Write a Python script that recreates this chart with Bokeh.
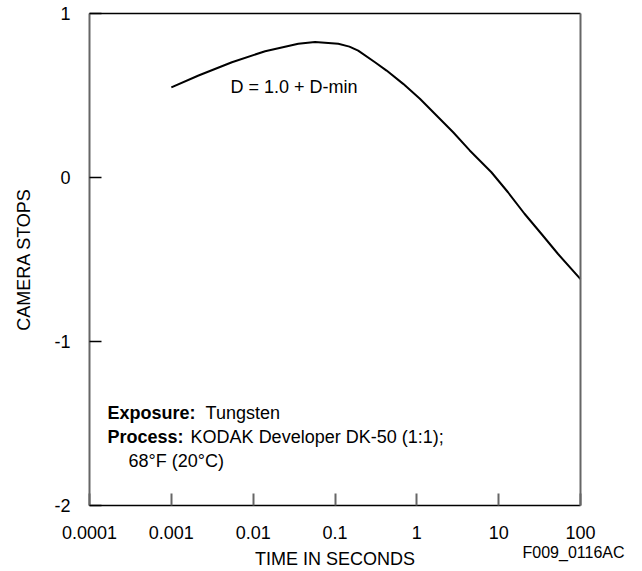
import math
from bokeh.plotting import figure
from bokeh.models import FixedTicker, Label, LogAxis, LinearAxis
from bokeh.embed import file_html
from bokeh.resources import INLINE

# Data
time_s = [0.001, 0.00215, 0.0055, 0.014, 0.0356, 0.057, 0.1096, 0.15, 0.192, 0.308,
          0.427, 0.681, 1.09, 1.74, 2.78, 4.43, 8.15, 13.0, 20.7, 33.2, 52.9, 100.0]
camera_stops = [0.55, 0.622, 0.703, 0.770, 0.815, 0.826, 0.815, 0.798, 0.774, 0.703,
                0.652, 0.571, 0.48, 0.378, 0.276, 0.165, 0.032, -0.09, -0.221,
                -0.343, -0.465, -0.62]

x_ticks = [0.0001, 0.001, 0.01, 0.1, 1, 10, 100]
x_tick_labels = ["0.0001", "0.001", "0.01", "0.1", "1", "10", "100"]
y_ticks = [-2, -1, 0, 1]
y_tick_labels = ["-2", "-1", "0", "1"]

FONT = "Liberation Sans"
GRAY = "#666666"

# Whole canvas is the frame; axes are fixed at the edges of the chart box.
W, H = 640, 569
box_w, box_h = 491, 492
px_per_decade = box_w / 6.0
px_per_unit = box_h / 3.0
left_px, top_px = 89, 13  # chart box offset inside canvas
x_lo = 10 ** (math.log10(x_ticks[0]) - left_px / px_per_decade)
x_hi = 10 ** (math.log10(x_ticks[-1]) + (W - left_px - box_w) / px_per_decade)
y_hi = y_ticks[-1] + top_px / px_per_unit
y_lo = y_ticks[0] - (H - top_px - box_h) / px_per_unit

p = figure(width=W, height=H, x_axis_type="log",
           x_range=(x_lo, x_hi), y_range=(y_lo, y_hi),
           output_backend="svg", toolbar_location=None,
           min_border=0)

p.grid.visible = False
p.background_fill_color = "white"
p.border_fill_color = "white"
p.outline_line_color = None

# X axis (bottom of chart box)
xa = p.xaxis[0]
xa.fixed_location = y_ticks[0]
xa.bounds = (x_ticks[0], x_ticks[-1])
xa.ticker = FixedTicker(ticks=x_ticks, minor_ticks=[])
xa.major_label_overrides = {t: l for t, l in zip(x_ticks, x_tick_labels)}
xa.major_tick_in = 12
xa.major_tick_out = 0
xa.major_tick_line_color = GRAY
xa.major_tick_line_width = 2
xa.minor_tick_line_color = None
xa.axis_line_color = "black"
xa.axis_line_width = 1.5
xa.major_label_text_font = FONT
xa.major_label_text_font_size = "18px"
xa.major_label_text_color = "black"
xa.major_label_standoff = 20
xa.axis_label = "TIME IN SECONDS"
xa.axis_label_text_font = FONT
xa.axis_label_text_font_size = "18px"
xa.axis_label_text_font_style = "normal"
xa.axis_label_text_color = "black"
xa.axis_label_standoff = 7

# Y axis (left of chart box)
ya = p.yaxis[0]
ya.fixed_location = x_ticks[0]
ya.bounds = (y_ticks[0], y_ticks[-1])
ya.ticker = FixedTicker(ticks=y_ticks, minor_ticks=[])
ya.major_label_overrides = {t: l for t, l in zip(y_ticks, y_tick_labels)}
ya.major_tick_in = 12
ya.major_tick_out = 0
ya.major_tick_line_color = "black"
ya.major_tick_line_width = 1.5
ya.minor_tick_line_color = None
ya.axis_line_color = GRAY
ya.axis_line_width = 2
ya.major_label_text_font = FONT
ya.major_label_text_font_size = "18px"
ya.major_label_text_color = "black"
ya.major_label_standoff = 19
ya.axis_label = "CAMERA STOPS"
ya.axis_label_text_font = FONT
ya.axis_label_text_font_size = "18px"
ya.axis_label_text_font_style = "normal"
ya.axis_label_text_color = "black"
ya.axis_label_standoff = 17

# Top and right borders of the chart box
top_axis = LogAxis(fixed_location=y_ticks[-1], bounds=(x_ticks[0], x_ticks[-1]),
                   ticker=FixedTicker(ticks=[], minor_ticks=[]),
                   axis_line_color="black", axis_line_width=1.5,
                   major_tick_line_color=None, minor_tick_line_color=None,
                   major_label_text_font_size="0px")
p.add_layout(top_axis, "above")
right_axis = LinearAxis(fixed_location=x_ticks[-1], bounds=(y_ticks[0], y_ticks[-1]),
                        ticker=FixedTicker(ticks=[], minor_ticks=[]),
                        axis_line_color=GRAY, axis_line_width=2,
                        major_tick_line_color=None, minor_tick_line_color=None,
                        major_label_text_font_size="0px")
p.add_layout(right_axis, "right")

# Curve
p.line(time_s, camera_stops, line_color="black", line_width=2, line_join="round")

def lab(x, y, text, style="normal", size="18px", align="left"):
    p.add_layout(Label(x=x, y=y, text=text, text_font=FONT, text_font_size=size,
                       text_font_style=style, text_baseline="middle",
                       text_align=align, text_color="black"))

lab(0.00528, 0.549, "D = 1.0 + D-min")
lab(0.000166, -1.436, "Exposure:", style="bold")
lab(0.00262, -1.436, "Tungsten")
lab(0.000166, -1.585, "Process:", style="bold")
lab(0.00172, -1.585, "KODAK Developer DK-50 (1:1);")
lab(0.000300, -1.726, "68°F (20°C)")
lab(82.2, -2.287, "F009_0116AC", size="16px", align="center")

open("out.html", "w").write(file_html(p, INLINE))
